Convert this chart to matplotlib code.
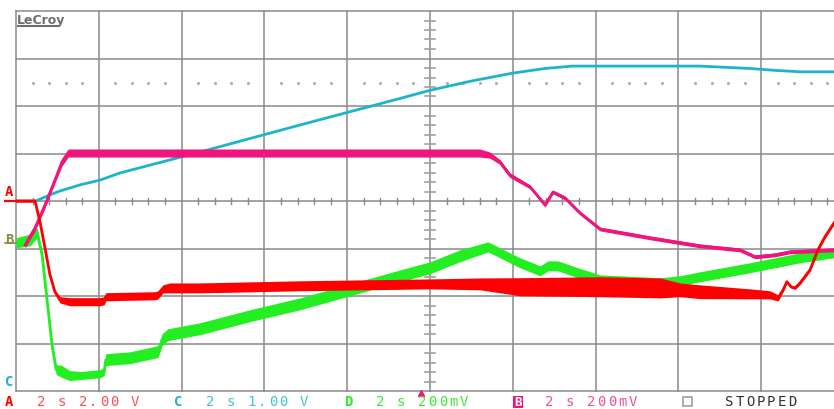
import matplotlib
matplotlib.use("Agg")
import matplotlib.pyplot as plt
from matplotlib.patches import Rectangle

# ---- traces (time in s, 2 s/div) ----
# A: red, 2.00 V/div
t_a = [0, 0.46, 0.58, 0.70, 0.82, 0.94, 1.06, 1.30, 2.03, 2.13, 2.17, 3.36,
       3.43, 3.55, 3.72, 4.44, 6.86, 10.0, 11.21, 12.17, 14.11, 15.56, 16.04,
       16.52, 17.73, 18.21, 18.41, 18.53, 18.62, 18.72, 18.82, 18.94, 19.18,
       19.37, 19.54, 19.76]
v_a = [0, 0, -0.88, -1.97, -3.11, -3.82, -4.16, -4.24, -4.24, -4.20, -4.03,
       -3.99, -3.95, -3.70, -3.66, -3.66, -3.57, -3.49, -3.49, -3.61, -3.61,
       -3.66, -3.74, -3.82, -3.91, -3.95, -4.08, -3.74, -3.40, -3.61, -3.66,
       -3.45, -2.90, -2.06, -1.51, -0.92]
noise_a = [0.04, 0.04, 0.08, 0.08, 0.08, 0.08, 0.13, 0.17, 0.17, 0.17, 0.17,
           0.17, 0.17, 0.17, 0.21, 0.21, 0.21, 0.21, 0.25, 0.38, 0.42, 0.42,
           0.29, 0.29, 0.21, 0.17, 0.13, 0.08, 0.06, 0.06, 0.06, 0.06, 0.06,
           0.06, 0.06, 0.06]

# B: magenta, 200 mV/div
t_b = [0.22, 0.46, 0.70, 0.94, 1.11, 1.26, 11.21, 11.45, 11.69, 11.93, 12.42,
       12.78, 12.97, 13.26, 13.62, 14.11, 15.31, 16.52, 17.49, 17.85, 18.33,
       18.70, 19.76]
v_b = [-17, 55, 151, 256, 332, 370, 370, 361, 332, 277, 227, 151, 206, 181,
       118, 50, 13, -21, -38, -67, -59, -46, -38]
noise_b = [13, 13, 13, 13, 17, 17, 17, 13, 10, 10, 8, 8, 8, 8, 8, 8, 8, 8, 8,
           8, 8, 8, 8]

# C: cyan, 1.00 V/div
t_c = [0, 0.48, 0.82, 1.06, 1.55, 2.03, 2.51, 4.44, 6.86, 9.28, 10.0, 10.97,
       11.98, 12.78, 13.43, 16.52, 17.0, 17.73, 18.33, 18.94, 19.76]
v_c = [4.0, 4.0, 4.13, 4.21, 4.34, 4.44, 4.59, 5.03, 5.60, 6.16, 6.33, 6.52,
       6.69, 6.79, 6.84, 6.84, 6.82, 6.79, 6.75, 6.72, 6.72]

# D: green, 200 mV/div
t_d = [0, 0.34, 0.51, 0.63, 0.75, 0.87, 0.97, 1.11, 1.30, 1.55, 2.03, 2.13,
       2.17, 2.75, 3.43, 3.53, 3.67, 4.44, 5.65, 6.86, 8.07, 9.28, 10.0, 10.72,
       11.40, 11.69, 12.17, 12.66, 12.85, 13.09, 13.50, 14.11, 15.56, 16.04,
       16.52, 17.73, 18.94, 19.76]
v_d = [-8, 4, 34, -59, -248, -437, -542, -550, -567, -567, -559, -550, -500,
       -492, -466, -416, -395, -370, -315, -265, -206, -147, -113, -63, -25,
       -50, -92, -126, -105, -105, -130, -164, -176, -168, -151, -113, -71, -50]
noise_d = [21, 25, 21, 17, 13, 13, 21, 25, 21, 17, 17, 17, 25, 25, 25, 25, 25,
           25, 25, 25, 25, 25, 25, 25, 21, 21, 21, 21, 21, 21, 21, 21, 21, 21,
           21, 21, 21, 21]

RED = '#FF0000'
PINK = '#F0147C'
CYAN = '#1CB4CC'
GREEN = '#22EE22'
GRID = '#8A8A8A'

W, H = 834, 409
fig = plt.figure(figsize=(W / 100, H / 100), dpi=100)
fig.patch.set_facecolor('white')

# screen: 10 x 8 divisions, right edge runs off the picture
ax = fig.add_axes([16 / W, (H - 391) / H, 828 / W, 380 / H])
ax.set_xlim(0, 20)
ax.set_ylim(-4, 4)
ax.axis('off')

for x in range(0, 21, 2):
    ax.axvline(x, color=GRID, lw=1.1, clip_on=False, zorder=1)
for y in range(-4, 5):
    ax.axhline(y, color=GRID, lw=1.1, clip_on=False, zorder=1)

# centre cross sub-ticks
for k in range(1, 50):
    x = k * 0.4
    if k % 5:
        ax.plot([x, x], [-0.065, 0.065], color=GRID, lw=1.0, zorder=1)
for k in range(-19, 20):
    y = k * 0.2
    if k % 5:
        ax.plot([9.87, 10.13], [y, y], color='#A0A0A0', lw=1.2, zorder=1)

# dotted row
dots = [k * 0.4 for k in range(1, 50) if k % 5]
ax.plot(dots, [2.48] * len(dots), ls='none', marker='s', ms=1.0,
        color='#A8A8A8', zorder=1)


def to_div(vals, scale, off):
    return [v / scale + off for v in vals]


def trace(t, v, noise, scale, off, color, lw, z):
    mid = to_div(v, scale, off)
    if noise is not None:
        lo = [(a - n) / scale + off for a, n in zip(v, noise)]
        hi = [(a + n) / scale + off for a, n in zip(v, noise)]
        ax.fill_between(t, lo, hi, color=color, lw=0, zorder=z)
    ax.plot(t, mid, color=color, lw=lw, zorder=z, solid_joinstyle='round')


off_a, off_b, off_c, off_d = 0.0, -0.84, -4.0, -0.84
trace(t_d, v_d, noise_d, 200, off_d, GREEN, 2.0, 3)
trace(t_c, v_c, None, 1.0, off_c, CYAN, 2.0, 4)
trace(t_b, v_b, noise_b, 200, off_b, PINK, 2.0, 5)
trace(t_a, v_a, noise_a, 2.0, off_a, RED, 2.0, 6)

# channel ground markers on the left edge
ax.plot([-0.27, 0], [off_a, off_a], color=RED, lw=1.6, clip_on=False, zorder=6)
ax.plot([-0.27, 0], [off_b - 0.05, off_b - 0.05], color='#8C8C3C', lw=1.2,
        clip_on=False, zorder=6)

# ---- overlay in screen pixels for the text ----
ov = fig.add_axes([0, 0, 1, 1])
ov.set_xlim(0, W)
ov.set_ylim(H, 0)
ov.axis('off')
ov.patch.set_visible(False)

ov.text(17, 24, 'LeCroy', color='#6E6E6E', fontsize=9, weight='bold',
        family='DejaVu Sans', va='baseline', ha='left')
ov.plot([18, 58], [25.5, 25.5], color='#6E6E6E', lw=1.5)

ov.text(5, 192, 'A', color=RED, fontsize=10, weight='bold',
        family='DejaVu Sans Mono', va='center')
ov.text(5, 240, 'B', color='#8C8C3C', fontsize=10, weight='bold',
        family='DejaVu Sans Mono', va='center')
ov.text(5, 382, 'C', color=CYAN, fontsize=10, weight='bold',
        family='DejaVu Sans Mono', va='center')


def mono(x, y, s, color, weight='normal', pitch=10.45):
    for i, ch in enumerate(s):
        if ch != ' ':
            ov.text(x + i * pitch, y, ch, color=color, fontsize=10,
                    family='DejaVu Sans Mono', va='center', ha='left',
                    weight=weight)


mono(5, 402, 'A', RED, 'bold')
mono(37, 402, '2 s 2.00 V', '#FF5050')
mono(174, 402, 'C', CYAN, 'bold')
mono(206, 402, '2 s 1.00 V', '#3CC4D6')
mono(344, 402, 'D', GREEN, 'bold')
mono(376, 402, '2 s 200mV', '#3CE83C')
ov.add_patch(Rectangle((513, 396), 10, 12, color=PINK, lw=0))
ov.text(518, 402, 'B', color='white', fontsize=9, weight='bold',
        family='DejaVu Sans Mono', va='center', ha='center')
mono(545, 402, '2 s 200mV', '#F0509A')
ov.add_patch(Rectangle((683, 397), 9, 9, fill=False, ec='#A0A0A0', lw=1.2))
mono(725, 402, 'STOPPED', '#303030')

ov.plot([421], [392.5], marker='^', ms=5, color=PINK, mec=PINK)

fig.savefig('out.png', dpi=100)
